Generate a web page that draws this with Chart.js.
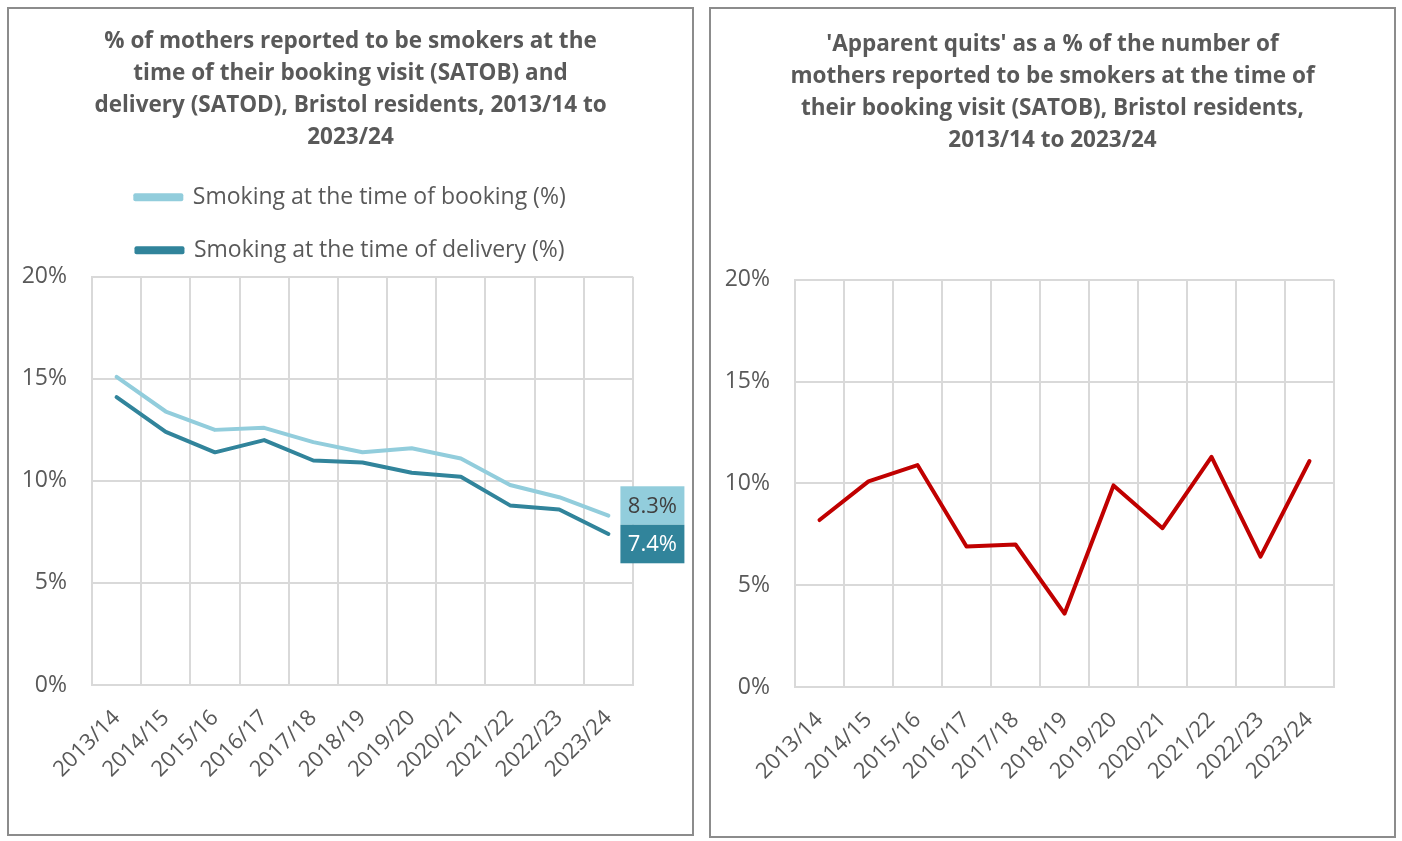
<!DOCTYPE html>
<html>
<head>
<meta charset="utf-8">
<script src="https://cdn.jsdelivr.net/npm/chart.js@4"></script>
<style>
    body { margin: 0; background: #fff; }
    .panel { position: absolute; border: 2px solid #8c8c8c; box-sizing: border-box; background: #fff; }
    #leftPanel { left: 7px; top: 7px; width: 687px; height: 829px; }
    #rightPanel { left: 709px; top: 7px; width: 687px; height: 831px; }
</style>
</head>
<body>
<div class="panel" id="leftPanel"><canvas id="smokingChart" width="683" height="825"></canvas></div>
<div class="panel" id="rightPanel"><canvas id="quitsChart" width="683" height="827"></canvas></div>
<script>
const years = ['2013/14', '2014/15', '2015/16', '2016/17', '2017/18', '2018/19',
    '2019/20', '2020/21', '2021/22', '2022/23', '2023/24'];
const bookingPct = [15.1, 13.4, 12.5, 12.6, 11.9, 11.4, 11.6, 11.1, 9.8, 9.2, 8.3];
const deliveryPct = [14.1, 12.4, 11.4, 12.0, 11.0, 10.9, 10.4, 10.2, 8.8, 8.6, 7.4];
const apparentQuitsPct = [8.2, 10.1, 10.9, 6.9, 7.0, 3.6, 9.9, 7.8, 11.3, 6.4, 11.1];
const yTicks = [0, 5, 10, 15, 20];

const textColor = '#595959';
const gridColor = '#d9d9d9';
const fontFamily = '"Open Sans", Lato, sans-serif';

// draws the boxed value labels at the end of each line
const endLabels = {
    id: 'endLabels',
    afterDatasetsDraw(chart) {
        const ctx = chart.ctx;
        const boxes = [];
        chart.data.datasets.forEach((ds, i) => {
            const meta = chart.getDatasetMeta(i);
            const pt = meta.data[meta.data.length - 1];
            boxes.push({ x: pt.x, y: pt.y, ds: ds, value: ds.data[ds.data.length - 1] });
        });
        const h = 38.5;
        const w = 64;
        boxes.sort((a, b) => a.y - b.y);
        const mid = boxes.reduce((s, b) => s + b.y, 0) / boxes.length;
        const top = mid - h * boxes.length / 2;
        boxes.forEach((b, i) => {
            const bx = b.x + 12;
            const by = top + i * h;
            ctx.save();
            ctx.fillStyle = b.ds.borderColor;
            ctx.fillRect(bx, by, w, h);
            ctx.fillStyle = b.ds.labelText;
            ctx.font = '22px ' + fontFamily;
            ctx.textAlign = 'center';
            ctx.textBaseline = 'middle';
            ctx.fillText(b.value.toFixed(1) + '%', bx + w / 2, by + h / 2 + 1);
            ctx.restore();
        });
    }
};

function yScale(leftWidth) {
    return {
        min: 0,
        max: 20,
        afterBuildTicks: axis => { axis.ticks = yTicks.map(v => ({ value: v })); },
        afterFit: axis => { axis.width = leftWidth; },
        ticks: {
            color: textColor,
            padding: 25,
            font: { family: fontFamily, size: 23 },
            callback: v => v + '%'
        },
        grid: { color: gridColor, lineWidth: 2, drawTicks: false },
        border: { color: gridColor, width: 2 }
    };
}

// empty axis on the right that only reserves room
function rightSpace(width) {
    return {
        type: 'linear',
        position: 'right',
        afterFit: axis => { axis.width = width; },
        ticks: { display: false },
        grid: { display: false },
        border: { display: false }
    };
}

function xScale(height) {
    return {
        offset: true,
        afterFit: axis => { axis.height = height; },
        ticks: {
            color: textColor,
            padding: 20,
            minRotation: 45,
            maxRotation: 45,
            autoSkip: false,
            font: { family: fontFamily, size: 22 }
        },
        grid: { color: gridColor, lineWidth: 2, offset: true, drawTicks: false },
        border: { color: gridColor, width: 2 }
    };
}

function lineDataset(label, data, color, labelText) {
    return {
        label: label,
        data: data,
        borderColor: color,
        backgroundColor: color,
        labelText: labelText,
        borderWidth: 4,
        borderCapStyle: 'round',
        borderJoinStyle: 'round',
        pointRadius: 0,
        tension: 0
    };
}

new Chart(document.getElementById('smokingChart'), {
    type: 'line',
    data: {
        labels: years,
        datasets: [
            lineDataset('Smoking at the time of booking (%)', bookingPct, '#92cddc', '#404040'),
            lineDataset('Smoking at the time of delivery (%)', deliveryPct, '#31849b', '#ffffff')
        ]
    },
    options: {
        responsive: false,
        animation: false,
        layout: { padding: 0 },
        scales: { x: xScale(149), y: yScale(83), space: rightSpace(59) },
        plugins: {
            title: {
                display: true,
                text: ['% of mothers reported to be smokers at the',
                    'time of their booking visit (SATOB) and',
                    'delivery (SATOD), Bristol residents, 2013/14 to',
                    '2023/24'],
                color: textColor,
                font: { family: fontFamily, size: 22.5, weight: 'bold', lineHeight: 1.42 },
                padding: { top: 17, bottom: 2 }
            },
            // small empty spacer between legend and plot area
            subtitle: {
                display: true,
                text: '',
                weight: 500,
                font: { size: 5, lineHeight: 1 },
                padding: 0
            },
            legend: {
                position: 'top',
                labels: {
                    color: textColor,
                    boxWidth: 46,
                    boxHeight: 4,
                    padding: 30,
                    font: { family: fontFamily, size: 23 }
                }
            },
            tooltip: { enabled: false }
        }
    },
    plugins: [endLabels]
});

new Chart(document.getElementById('quitsChart'), {
    type: 'line',
    data: {
        labels: years,
        datasets: [
            lineDataset('Apparent quits (%)', apparentQuitsPct, '#c00000', '#ffffff')
        ]
    },
    options: {
        responsive: false,
        animation: false,
        layout: { padding: 0 },
        scales: { x: xScale(149), y: yScale(84), space: rightSpace(60) },
        plugins: {
            title: {
                display: true,
                text: ["'Apparent quits' as a % of the number of",
                    'mothers reported to be smokers at the time of',
                    'their booking visit (SATOB), Bristol residents,',
                    '2013/14 to 2023/24'],
                color: textColor,
                font: { family: fontFamily, size: 22.5, weight: 'bold', lineHeight: 1.42 },
                padding: { top: 20, bottom: 123 }
            },
            legend: { display: false },
            tooltip: { enabled: false }
        }
    }
});
</script>
</body>
</html>
